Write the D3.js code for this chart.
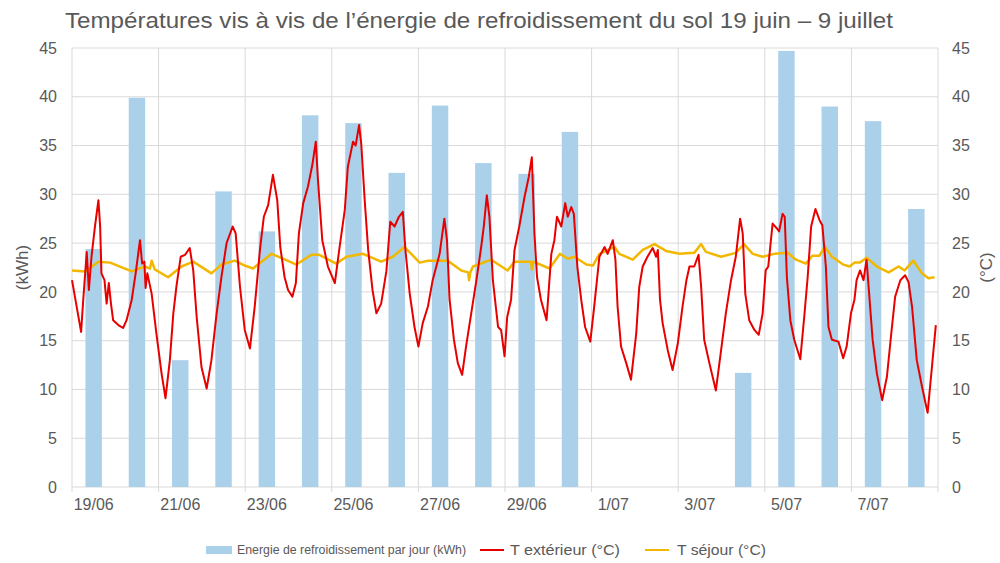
<!DOCTYPE html>
<html><head><meta charset="utf-8">
<script src="https://cdn.jsdelivr.net/npm/d3@7/dist/d3.min.js"></script>
<style>body{margin:0;background:#fff}svg{display:block}text{font-family:"Liberation Sans",Arial,sans-serif}</style>
</head><body><svg id="c" width="1000" height="563"></svg>
<script>
const title = "Températures vis à vis de l’énergie de refroidissement du sol 19 juin – 9 juillet";
const days = ["19/06","20/06","21/06","22/06","23/06","24/06","25/06","26/06","27/06","28/06","29/06","30/06","1/07","2/07","3/07","4/07","5/07","6/07","7/07","8/07"];
const energy = [24.4,39.9,13.0,30.3,26.2,38.1,37.3,32.2,39.1,33.2,32.1,36.4,0,0,0,11.7,44.7,39.0,37.5,28.5];
const tickLabels = ["19/06","21/06","23/06","25/06","27/06","29/06","1/07","3/07","5/07","7/07"];
const yTicks = [0,5,10,15,20,25,30,35,40,45];
// [day offset from 19/06 00:00, °C]
const tExterieur = [
[0,21.2],[0.21,15.9],[0.26,19.2],[0.34,24.1],[0.39,20.2],[0.45,23.6],[0.53,26.7],[0.61,29.4],[0.65,26.7],[0.68,21.9],[0.75,21.2],[0.80,18.8],[0.85,20.9],[0.90,18.8],[0.95,17.1],[1.07,16.6],[1.18,16.3],[1.26,17.1],[1.38,19.2],[1.47,21.9],[1.57,25.3],[1.62,22.9],[1.67,23.1],[1.70,20.4],[1.74,21.9],[1.84,19.8],[1.95,15.7],[2.07,11.6],[2.16,9.1],[2.26,13.0],[2.34,17.8],[2.41,20.5],[2.51,23.6],[2.61,23.8],[2.72,24.5],[2.80,22.2],[2.88,17.4],[2.99,12.3],[3.11,10.1],[3.22,13.0],[3.34,17.8],[3.45,21.5],[3.57,25.0],[3.71,26.7],[3.78,26.0],[3.88,20.5],[3.99,16.1],
[4.11,14.2],[4.22,18.5],[4.34,24.3],[4.43,27.7],[4.53,28.9],[4.64,32.0],[4.74,29.4],[4.81,24.6],[4.91,21.5],[4.99,20.2],[5.09,19.5],[5.17,20.9],[5.24,26.0],[5.34,29.1],[5.45,30.8],[5.55,33.0],[5.63,35.4],[5.68,31.5],[5.78,25.3],[5.91,22.6],[6.07,20.9],[6.18,24.6],[6.30,28.4],[6.37,32.8],[6.49,35.4],[6.55,35.0],[6.63,37.1],[6.68,35.2],[6.76,29.4],[6.84,24.3],[6.94,20.2],[7.03,17.8],[7.14,18.8],[7.26,22.1],[7.35,27.2],[7.45,26.7],[7.55,27.7],[7.64,28.2],[7.70,24.3],[7.80,19.8],[7.91,16.4],[8.00,14.4],
[8.10,16.8],[8.22,18.5],[8.33,21.2],[8.49,23.9],[8.60,27.5],[8.66,25.3],[8.72,19.2],[8.82,15.1],[8.91,12.7],[9.01,11.5],[9.10,14.4],[9.22,17.8],[9.34,21.2],[9.45,24.6],[9.51,26.7],[9.58,29.9],[9.64,27.7],[9.72,21.2],[9.84,16.4],[9.91,16.1],[9.99,13.4],[10.05,17.4],[10.14,19.2],[10.22,24.3],[10.33,26.7],[10.45,29.7],[10.55,31.8],[10.62,33.8],[10.68,26.0],[10.74,21.5],[10.83,19.2],[10.96,17.1],[11.07,23.9],[11.14,25.3],[11.20,27.7],[11.30,26.7],[11.39,29.1],[11.45,27.7],[11.53,28.7],[11.59,28.0],[11.67,22.6],[11.76,19.2],[11.85,16.4],[11.97,14.9],
[12.06,18.5],[12.18,23.6],[12.30,24.6],[12.37,23.9],[12.49,25.3],[12.55,23.3],[12.60,18.5],[12.68,14.4],[12.80,12.7],[12.91,11.0],[13.03,15.7],[13.10,20.5],[13.18,22.6],[13.29,23.6],[13.41,24.5],[13.49,23.6],[13.53,24.3],[13.58,19.2],[13.64,16.8],[13.76,14.0],[13.87,12.0],[13.99,14.7],[14.10,18.5],[14.19,21.2],[14.26,22.6],[14.37,22.6],[14.47,23.8],[14.53,20.5],[14.60,15.1],[14.72,12.7],[14.87,9.9],[14.99,14.0],[15.10,17.8],[15.22,21.2],[15.33,23.6],[15.43,27.5],[15.49,26.0],[15.55,19.8],[15.64,17.1],[15.76,16.1],[15.86,15.6],[15.95,17.8],
[16.02,22.2],[16.08,22.6],[16.18,27.0],[16.28,26.5],[16.33,26.2],[16.41,28.0],[16.46,27.7],[16.51,21.5],[16.59,17.1],[16.68,15.1],[16.82,13.1],[16.91,17.4],[16.99,21.5],[17.07,26.7],[17.17,28.5],[17.26,27.4],[17.33,26.8],[17.41,22.6],[17.47,16.4],[17.55,15.1],[17.70,14.9],[17.81,13.2],[17.89,14.4],[17.99,17.8],[18.07,19.2],[18.12,21.2],[18.20,22.2],[18.28,21.2],[18.35,23.3],[18.41,19.8],[18.49,15.1],[18.59,11.6],[18.71,8.9],[18.82,11.3],[18.92,15.7],[19.01,19.5],[19.13,21.2],[19.24,21.7],[19.32,21.0],[19.40,18.5],[19.51,13.0],[19.63,10.3],[19.76,7.6],[19.86,12.3],[19.95,16.6]
];
const tSejour = [
[0,22.2],[0.3,22.1],[0.61,23.1],[0.88,23.0],[1.38,22.1],[1.68,22.6],[1.80,22.4],[1.84,23.2],[1.91,22.3],[2.22,21.5],[2.53,22.6],[2.80,23.1],[3.22,21.9],[3.45,22.8],[3.76,23.2],[3.99,22.7],[4.18,22.4],[4.61,23.9],[4.87,23.4],[5.18,22.8],[5.53,23.8],[5.71,23.8],[6.10,22.9],[6.34,23.6],[6.72,23.9],[7.14,23.1],[7.41,23.6],[7.68,24.6],[8.03,23.0],[8.22,23.2],[8.68,23.2],[8.99,22.2],[9.15,22.0],[9.17,21.2],[9.20,22.0],[9.26,22.6],[9.68,23.3],[10.06,22.2],[10.22,23.1],[10.60,23.1],[10.62,22.3],[10.65,23.1],[11.03,22.4],[11.27,23.9],[11.45,23.4],[11.60,23.6],[11.88,22.8],[12.03,22.7],[12.18,23.9],[12.53,24.6],[12.64,23.9],[12.95,23.3],[13.18,24.3],[13.45,24.9],[13.72,24.2],[14.03,23.9],[14.37,24.0],[14.53,24.9],[14.64,24.1],[14.99,23.6],[15.33,24.0],[15.52,24.9],[15.72,23.9],[15.95,23.6],[16.22,23.9],[16.53,24.0],[16.72,23.3],[16.95,22.9],[17.10,23.7],[17.26,23.7],[17.39,24.6],[17.55,23.6],[17.81,22.8],[17.96,22.6],[18.07,23.0],[18.20,23.0],[18.35,23.5],[18.59,22.6],[18.86,22.0],[19.09,22.6],[19.23,22.2],[19.43,23.2],[19.63,21.9],[19.78,21.4],[19.92,21.5]
];
const legendLabels = ["Energie de refroidissement par jour (kWh)","T extérieur (°C)","T séjour (°C)"];

const svg = d3.select("#c");
const L = 72, R = 938, T = 48, B = 487;
const grey = "#595959", gridC = "#d9d9d9";
const xBand = d3.scaleBand().domain(days).range([L, R]).paddingInner(0.62).paddingOuter(0.31);
const xTime = d3.scaleLinear().domain([0, days.length]).range([L, R]);
const yL = d3.scaleLinear().domain([0, 45]).range([B, T]);
const yR = d3.scaleLinear().domain([0, 45]).range([B, T]);

// horizontal grid
svg.append("g").selectAll("line").data(yTicks).join("line")
  .attr("x1", L).attr("x2", R).attr("y1", d => yL(d)).attr("y2", d => yL(d))
  .attr("stroke", gridC).attr("stroke-width", 1);
// vertical grid every 2 days
const vg = d3.range(0, days.length + 1, 2);
svg.append("g").selectAll("line").data(vg).join("line")
  .attr("x1", d => xTime(d)).attr("x2", d => xTime(d)).attr("y1", T).attr("y2", B + 5)
  .attr("stroke", gridC).attr("stroke-width", 1);

// bars
svg.append("g").selectAll("rect").data(energy).join("rect")
  .attr("x", (d, i) => xBand(days[i])).attr("width", xBand.bandwidth())
  .attr("y", d => yL(d)).attr("height", d => B - yL(d))
  .attr("fill", "#abd0e9");

// lines
const line = d3.line().x(d => xTime(d[0])).y(d => yR(d[1]));
svg.append("path").datum(tSejour).attr("d", line).attr("fill", "none")
  .attr("stroke", "#f2b800").attr("stroke-width", 2.5).attr("stroke-linejoin", "round");
svg.append("path").datum(tExterieur).attr("d", line).attr("fill", "none")
  .attr("stroke", "#e80000").attr("stroke-width", 2).attr("stroke-linejoin", "round");

// axes
const axL = svg.append("g").attr("transform", `translate(${L},0)`)
  .call(d3.axisLeft(yL).tickValues(yTicks).tickSize(0).tickPadding(15));
const axR = svg.append("g").attr("transform", `translate(${R},0)`)
  .call(d3.axisRight(yR).tickValues(yTicks).tickSize(0).tickPadding(14));
const axB = svg.append("g").attr("transform", `translate(0,${B})`)
  .call(d3.axisBottom(xBand).tickValues(tickLabels).tickSize(0).tickPadding(12));
[axL, axR, axB].forEach(a => {
  a.select(".domain").remove();
  a.selectAll("text").attr("fill", grey).style("font-size", "16px").style("font-family", '"Liberation Sans",Arial,sans-serif');
});

// axis titles
svg.append("text").attr("transform", `translate(28,${(T+B)/2}) rotate(-90)`)
  .attr("text-anchor", "middle").attr("fill", grey).style("font-size", "17px").text("(kWh)");
svg.append("text").attr("transform", `translate(992,${(T+B)/2}) rotate(-90)`)
  .attr("text-anchor", "middle").attr("fill", grey).style("font-size", "17px").text("(°C)");

// title
svg.append("text").attr("x", 65).attr("y", 28)
  .attr("fill", grey).style("font-size", "22px")
  .attr("textLength", 828).attr("lengthAdjust", "spacingAndGlyphs").text(title);

// legend
const lg = svg.append("g");
lg.append("rect").attr("x", 206).attr("y", 546).attr("width", 26).attr("height", 8).attr("fill", "#abd0e9");
lg.append("text").attr("x", 237).attr("y", 554).attr("fill", grey).style("font-size", "12px")
  .attr("textLength", 229).attr("lengthAdjust", "spacingAndGlyphs").text(legendLabels[0]);
lg.append("line").attr("x1", 480).attr("x2", 504).attr("y1", 550).attr("y2", 550).attr("stroke", "#e80000").attr("stroke-width", 2);
lg.append("text").attr("x", 510).attr("y", 555).attr("fill", grey).style("font-size", "15px")
  .attr("textLength", 110).attr("lengthAdjust", "spacingAndGlyphs").text(legendLabels[1]);
lg.append("line").attr("x1", 645).attr("x2", 669).attr("y1", 550).attr("y2", 550).attr("stroke", "#f2b800").attr("stroke-width", 2);
lg.append("text").attr("x", 677).attr("y", 555).attr("fill", grey).style("font-size", "15px")
  .attr("textLength", 89).attr("lengthAdjust", "spacingAndGlyphs").text(legendLabels[2]);
</script></body></html>
